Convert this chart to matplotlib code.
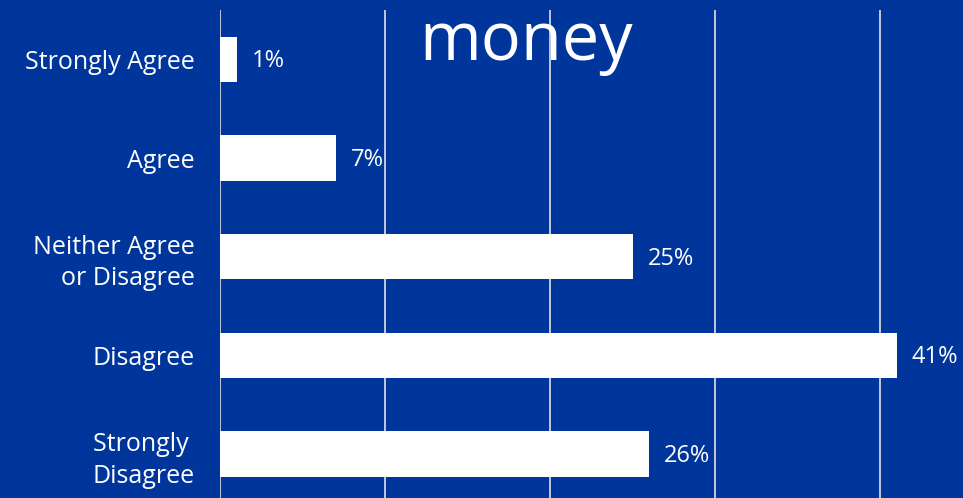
import matplotlib
matplotlib.use("Agg")
import matplotlib.pyplot as plt

categories = ["Strongly Agree", "Agree", "Neither Agree\nor Disagree", "Disagree", "Strongly \nDisagree"]
values = [1, 7, 25, 41, 26]
labels = ["1%", "7%", "25%", "41%", "26%"]
title = "money"

BG = "#00369c"
plt.rcParams['font.family'] = ['Open Sans', 'DejaVu Sans']

fig = plt.figure(figsize=(9.63, 4.98), dpi=100, facecolor=BG)
ax = fig.add_axes([220/963, 1 - 503.5/498, (963 - 220)/963, 493.5/498])
ax.set_facecolor(BG)

y = list(range(len(categories)))
ax.barh(y, values, height=0.46, color="white", zorder=3)
ax.set_ylim(len(categories) - 0.5, -0.5)
ax.set_xlim(0, 45)
ax.set_xticks([0, 10, 20, 30, 40])
ax.grid(axis="x", color="#d0d4e0", linewidth=1.3, zorder=1)
ax.tick_params(axis="x", bottom=False, labelbottom=False)
ax.set_yticks(y)
ax.set_yticklabels(categories, color="white", fontsize=18, linespacing=1.35)
ax.tick_params(axis="y", left=False, pad=14.5)
for s in ax.spines.values():
    s.set_visible(False)

for yi, v, lab in zip(y, values, labels):
    ax.annotate(lab, (v, yi), xytext=(15, -2), textcoords="offset pixels",
                va="center", ha="left", color="white", fontsize=17, zorder=4)

fig.text(526/963, 1 - 60/498, title, ha="center", va="baseline",
         color="white", fontsize=48)

fig.savefig("out.png", dpi=100, facecolor=BG)
